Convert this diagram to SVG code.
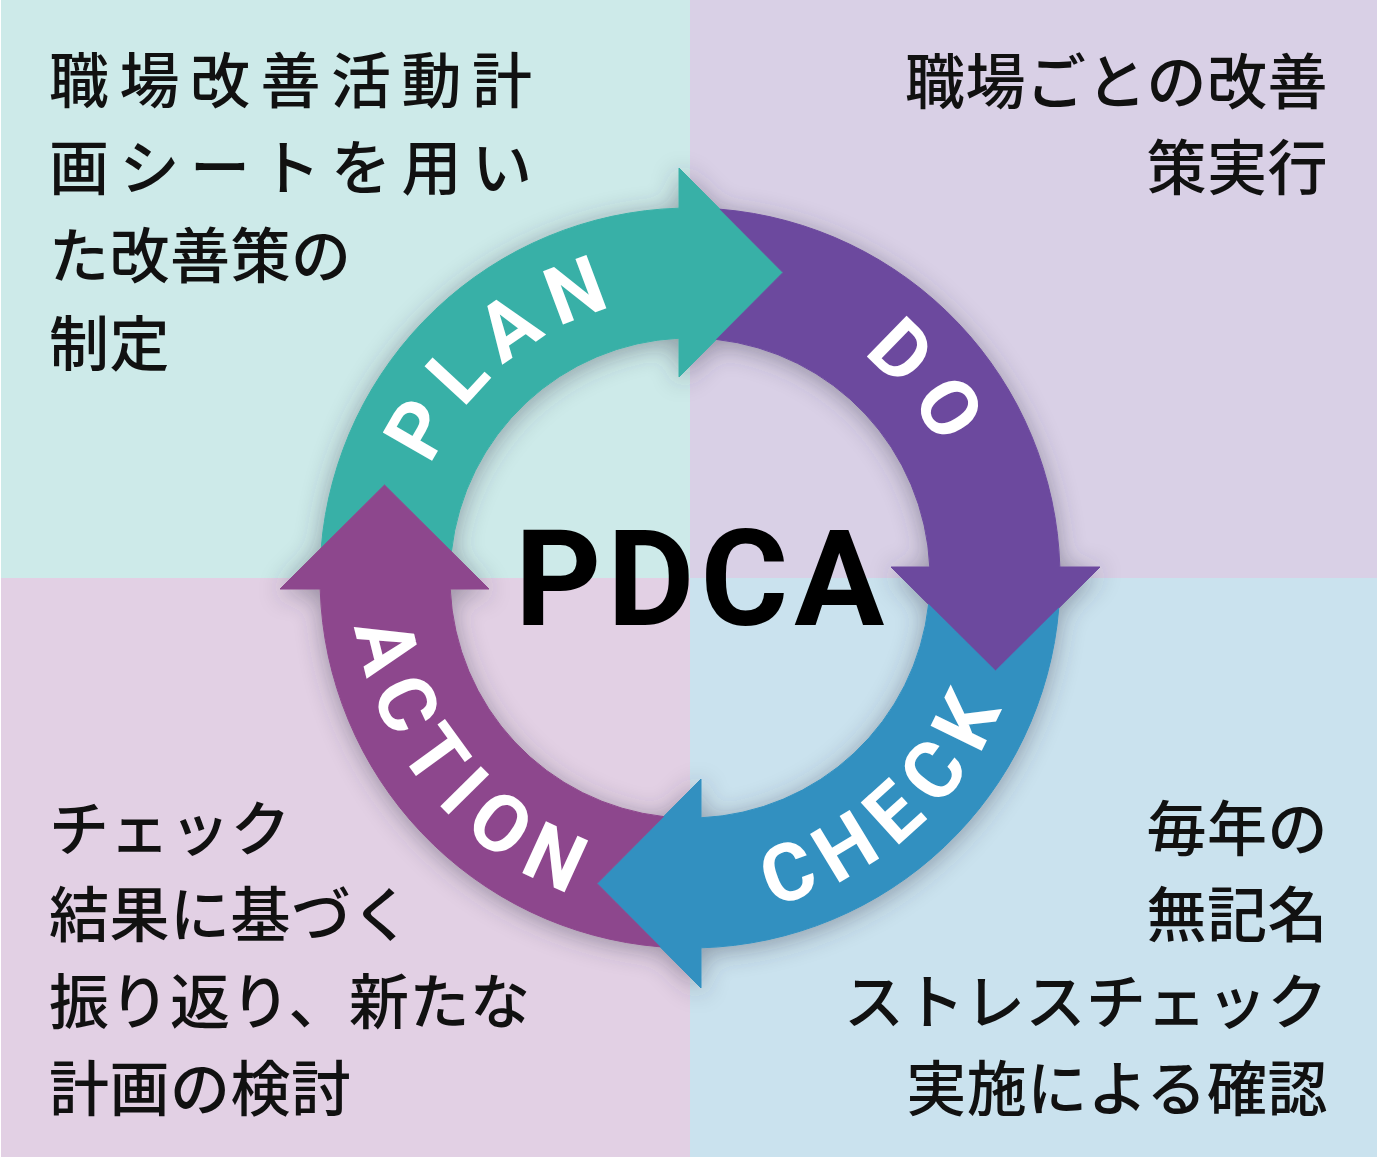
<svg xmlns="http://www.w3.org/2000/svg" xmlns:xlink="http://www.w3.org/1999/xlink" width="1380" height="1160" viewBox="0 0 1380 1160">
  <style>
    .jp { font-family: "Noto Sans CJK JP", "Noto Sans CJK SC", sans-serif; font-size: 60px; font-weight: 500; fill: #111; letter-spacing: 0.5px; }
    .jp-wide { letter-spacing: 10.5px; }
    .end { text-anchor: end; }
    .lbl { font-family: Roboto, "Liberation Sans", sans-serif; font-size: 80px; font-weight: 700; fill: #fff; letter-spacing: 14px; text-anchor: middle; }
    .title { font-family: Roboto, "Liberation Sans", sans-serif; font-size: 134px; font-weight: 700; fill: #000; letter-spacing: 6px; }
    .seg { stroke-width: 1; stroke-linejoin: miter; }
  </style>
  <defs>
    <filter id="shadow" x="-25%" y="-25%" width="150%" height="150%">
      <feGaussianBlur in="SourceAlpha" stdDeviation="13"/>
      <feOffset dx="0" dy="4" result="blur"/>
      <feFlood flood-color="#3a3a4c" flood-opacity="0.45"/>
      <feComposite in2="blur" operator="in"/>
      <feMerge>
        <feMergeNode/>
        <feMergeNode in="SourceGraphic"/>
      </feMerge>
    </filter>
    <path id="seg" d="M 321.2 548 A 370 370 0 0 1 679 208.16 L 679 168 L 783 272.5 L 679 377 L 679 338.25 A 240 240 0 0 0 451.45 551.6 L 384.5 485 Z"/>
    <path id="topArc" d="M 408 578 A 282 282 0 0 1 972 578"/>
    <path id="botArc" d="M 352 578 A 338 338 0 0 0 1028 578"/>
  </defs>

  <g id="background">
    <rect x="0" y="0" width="1380" height="1160" fill="#ffffff"/>
    <rect x="1" y="0" width="689" height="578" fill="#cdeae9"/>
    <rect x="690" y="0" width="687" height="578" fill="#d9d0e6"/>
    <rect x="1" y="578" width="689" height="579" fill="#e2d0e4"/>
    <rect x="690" y="578" width="687" height="579" fill="#cae2ee"/>
  </g>

  <g id="connectors" filter="url(#shadow)">
    <use id="plan-arrow" href="#seg" xlink:href="#seg" class="seg" fill="#38b0a7" stroke="#38b0a7"/>
    <use id="do-arrow" href="#seg" xlink:href="#seg" class="seg" fill="#6c499e" stroke="#6c499e" transform="rotate(90 690 578)"/>
    <use id="check-arrow" href="#seg" xlink:href="#seg" class="seg" fill="#3190c0" stroke="#3190c0" transform="rotate(180 690 578)"/>
    <use id="action-arrow" href="#seg" xlink:href="#seg" class="seg" fill="#8d478d" stroke="#8d478d" transform="rotate(270 690 578)"/>
  </g>

  <g id="node-plan">
    <text class="lbl"><textPath href="#topArc" xlink:href="#topArc" startOffset="246">PLAN</textPath></text>
  </g>
  <g id="node-do">
    <text class="lbl"><textPath href="#topArc" xlink:href="#topArc" startOffset="695">DO</textPath></text>
  </g>
  <g id="node-check">
    <text class="lbl"><textPath href="#botArc" xlink:href="#botArc" startOffset="777">CHECK</textPath></text>
  </g>
  <g id="node-action">
    <text class="lbl"><textPath href="#botArc" xlink:href="#botArc" startOffset="235">ACTION</textPath></text>
  </g>

  <g id="node-pdca">
    <text class="title" x="515" y="625">PDCA</text>
  </g>

  <g id="desc-plan">
    <text class="jp jp-wide" x="49" y="103">職場改善活動計</text>
    <text class="jp jp-wide" x="49" y="190">画シートを用い</text>
    <text class="jp" x="49" y="278">た改善策の</text>
    <text class="jp" x="49" y="366">制定</text>
  </g>
  <g id="desc-do">
    <text class="jp end" x="1328" y="104">職場ごとの改善</text>
    <text class="jp end" x="1328" y="190">策実行</text>
  </g>
  <g id="desc-action">
    <text class="jp" x="49" y="851">チェック</text>
    <text class="jp" x="49" y="937">結果に基づく</text>
    <text class="jp" x="49" y="1024">振り返り、新たな</text>
    <text class="jp" x="49" y="1111">計画の検討</text>
  </g>
  <g id="desc-check">
    <text class="jp end" x="1328" y="851">毎年の</text>
    <text class="jp end" x="1328" y="937">無記名</text>
    <text class="jp end" x="1328" y="1024">ストレスチェック</text>
    <text class="jp end" x="1328" y="1111">実施による確認</text>
  </g>
</svg>
